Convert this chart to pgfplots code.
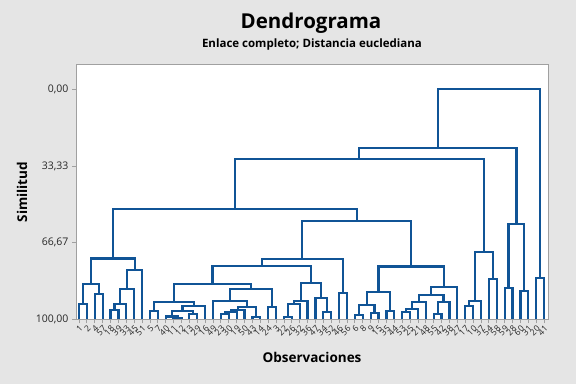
\documentclass[border=0pt]{standalone}
\usepackage{pgfplots}
\pgfplotsset{compat=1.18}
\usepackage{fontspec}
\setmainfont{Open Sans}
\definecolor{dblue}{RGB}{16,84,150}
\definecolor{bggray}{RGB}{229,229,229}
\definecolor{framegray}{RGB}{160,160,160}
\pgfplotsset{dendro/.style={draw=dblue, solid, mark=none, line width=2.2pt, line join=miter}}
\begin{document}
\begin{tikzpicture}[x=1pt,y=1pt]
\fill[bggray] (0,0) rectangle (576,384);
\path[use as bounding box] (0,0) rectangle (576,384);
\begin{axis}[
  at={(76pt,64.7pt)}, anchor=south west,
  scale only axis, width=472pt, height=255.3pt,
  xmin=0.62, xmax=60.5, ymin=-11, ymax=100, y dir=reverse,
  axis background/.style={fill=white},
  axis line style={draw=framegray, line width=0.8pt},
  tick align=outside, tick pos=left,
  major tick length=4pt,
  every tick/.style={draw=framegray, line width=0.8pt},
  ytick={0,33.33,66.67,100},
  yticklabels={{0,00},{33,33},{66,67},{100,00}},
  yticklabel style={font=\fontsize{10.5}{11}\selectfont, text=black!85},
  xtick={1,...,60},
  xticklabels={1,2,4,57,18,39,33,45,51,5,7,40,11,12,13,29,16,49,23,30,19,50,43,14,24,3,22,26,32,36,47,34,52,46,56,6,8,9,15,35,44,53,25,21,48,55,42,38,27,17,10,37,54,58,59,28,60,31,20,41},
  xticklabel style={rotate=45, anchor=north east, font=\fontsize{8.5}{9}\selectfont, inner sep=1pt, text=black!85},
]
% group 1-9
\addplot[dendro] coordinates {(1,100) (1,93.4) (2,93.4) (2,100)};
\addplot[dendro] coordinates {(3,100) (3,89) (4,89) (4,100)};
\addplot[dendro] coordinates {(1.5,93.4) (1.5,84.6) (3.5,84.6) (3.5,89)};
\addplot[dendro] coordinates {(5,100) (5,96) (6,96) (6,100)};
\addplot[dendro] coordinates {(5.5,96) (5.5,93.4) (7,93.4) (7,100)};
\addplot[dendro] coordinates {(6.25,93.4) (6.25,86.8) (8,86.8) (8,100)};
\addplot[dendro] coordinates {(7.125,86.8) (7.125,78.5) (9,78.5) (9,100)};
\addplot[dendro] coordinates {(2.5,84.6) (2.5,73.6) (8.0625,73.6) (8.0625,78.5)};
% group 10-35
\addplot[dendro] coordinates {(10,100) (10,96.5) (11,96.5) (11,100)};
\addplot[dendro] coordinates {(13,100) (13,99.4) (14,99.4) (14,100)};
\addplot[dendro] coordinates {(12,100) (12,98.8) (13.5,98.8) (13.5,99.4)};
\addplot[dendro] coordinates {(15,100) (15,97.7) (16,97.7) (16,100)};
\addplot[dendro] coordinates {(12.75,98.8) (12.75,96.5) (15.5,96.5) (15.5,97.7)};
\addplot[dendro] coordinates {(14.125,96.5) (14.125,94.3) (17,94.3) (17,100)};
\addplot[dendro] coordinates {(10.5,96.5) (10.5,92.5) (15.5625,92.5) (15.5625,94.3)};
\addplot[dendro] coordinates {(19,100) (19,97.7) (20,97.7) (20,100)};
\addplot[dendro] coordinates {(19.5,97.7) (19.5,96.8) (21,96.8) (21,100)};
\addplot[dendro] coordinates {(20.25,96.8) (20.25,95.8) (22,95.8) (22,100)};
\addplot[dendro] coordinates {(23,100) (23,99.1) (24,99.1) (24,100)};
\addplot[dendro] coordinates {(21.125,95.8) (21.125,94.6) (23.5,94.6) (23.5,99.1)};
\addplot[dendro] coordinates {(18,100) (18,92.1) (22.3125,92.1) (22.3125,94.6)};
\addplot[dendro] coordinates {(25,100) (25,94.6) (26,94.6) (26,100)};
\addplot[dendro] coordinates {(20.15625,92.1) (20.15625,86.9) (25.5,86.9) (25.5,94.6)};
\addplot[dendro] coordinates {(13.03125,92.5) (13.03125,84.6) (22.828,84.6) (22.828,86.9)};
\addplot[dendro] coordinates {(27,100) (27,99) (28,99) (28,100)};
\addplot[dendro] coordinates {(27.5,99) (27.5,93.5) (29,93.5) (29,100)};
\addplot[dendro] coordinates {(28.25,93.5) (28.25,92) (30,92) (30,100)};
\addplot[dendro] coordinates {(32,100) (32,96.9) (33,96.9) (33,100)};
\addplot[dendro] coordinates {(31,100) (31,90.6) (32.5,90.6) (32.5,96.9)};
\addplot[dendro] coordinates {(29.125,92) (29.125,84.2) (31.75,84.2) (31.75,90.6)};
\addplot[dendro] coordinates {(17.93,84.6) (17.93,76.8) (30.4375,76.8) (30.4375,84.2)};
\addplot[dendro] coordinates {(34,100) (34,88.6) (35,88.6) (35,100)};
\addplot[dendro] coordinates {(24.18,76.8) (24.18,73.7) (34.5,73.7) (34.5,88.6)};
% group 36-49
\addplot[dendro] coordinates {(36,100) (36,98) (37,98) (37,100)};
\addplot[dendro] coordinates {(38,100) (38,97.4) (39,97.4) (39,100)};
\addplot[dendro] coordinates {(36.5,98) (36.5,93.9) (38.5,93.9) (38.5,97.4)};
\addplot[dendro] coordinates {(40,100) (40,96.5) (41,96.5) (41,100)};
\addplot[dendro] coordinates {(37.5,93.9) (37.5,88.2) (40.5,88.2) (40.5,96.5)};
\addplot[dendro] coordinates {(42,100) (42,96.8) (43,96.8) (43,100)};
\addplot[dendro] coordinates {(42.5,96.8) (42.5,95.5) (44,95.5) (44,100)};
\addplot[dendro] coordinates {(43.25,95.5) (43.25,92.5) (45,92.5) (45,100)};
\addplot[dendro] coordinates {(46,100) (46,97.7) (47,97.7) (47,100)};
\addplot[dendro] coordinates {(46.5,97.7) (46.5,92.5) (48,92.5) (48,100)};
\addplot[dendro] coordinates {(44.125,92.5) (44.125,89.6) (47.25,89.6) (47.25,92.5)};
\addplot[dendro] coordinates {(45.6875,89.6) (45.6875,85.8) (49,85.8) (49,100)};
\addplot[dendro] coordinates {(39,88.2) (39,77) (47.34,77) (47.34,85.8)};
\addplot[dendro] coordinates {(29.34,73.7) (29.34,57.3) (43.17,57.3) (43.17,77)};
\addplot[dendro] coordinates {(5.28,73.6) (5.28,52) (36.26,52) (36.26,57.3)};
% group 50-54
\addplot[dendro] coordinates {(50,100) (50,94.3) (51,94.3) (51,100)};
\addplot[dendro] coordinates {(50.5,94.3) (50.5,92.1) (52,92.1) (52,100)};
\addplot[dendro] coordinates {(53,100) (53,82.6) (54,82.6) (54,100)};
\addplot[dendro] coordinates {(51.25,92.1) (51.25,70.7) (53.5,70.7) (53.5,82.6)};
\addplot[dendro] coordinates {(20.77,52) (20.77,30.3) (52.375,30.3) (52.375,70.7)};
% group 55-58
\addplot[dendro] coordinates {(55,100) (55,86.3) (56,86.3) (56,100)};
\addplot[dendro] coordinates {(57,100) (57,87.8) (58,87.8) (58,100)};
\addplot[dendro] coordinates {(55.5,86.3) (55.5,58.6) (57.5,58.6) (57.5,87.8)};
\addplot[dendro] coordinates {(36.57,30.3) (36.57,25.4) (56.5,25.4) (56.5,58.6)};
% 59-60 and root
\addplot[dendro] coordinates {(59,100) (59,81.9) (60,81.9) (60,100)};
\addplot[dendro] coordinates {(46.54,25.4) (46.54,0) (59.5,0) (59.5,81.9)};
\end{axis}
\node[font=\bfseries\fontsize{20.5}{22}\selectfont] at (311,361) {Dendrograma};
\node[font=\bfseries\fontsize{11.5}{13}\selectfont] at (312,339) {Enlace completo; Distancia euclediana};
\node[font=\bfseries\fontsize{13.5}{15}\selectfont, rotate=90] at (22,192) {Similitud};
\node[font=\bfseries\fontsize{13.5}{15}\selectfont] at (312,27) {Observaciones};
\end{tikzpicture}
\end{document}
